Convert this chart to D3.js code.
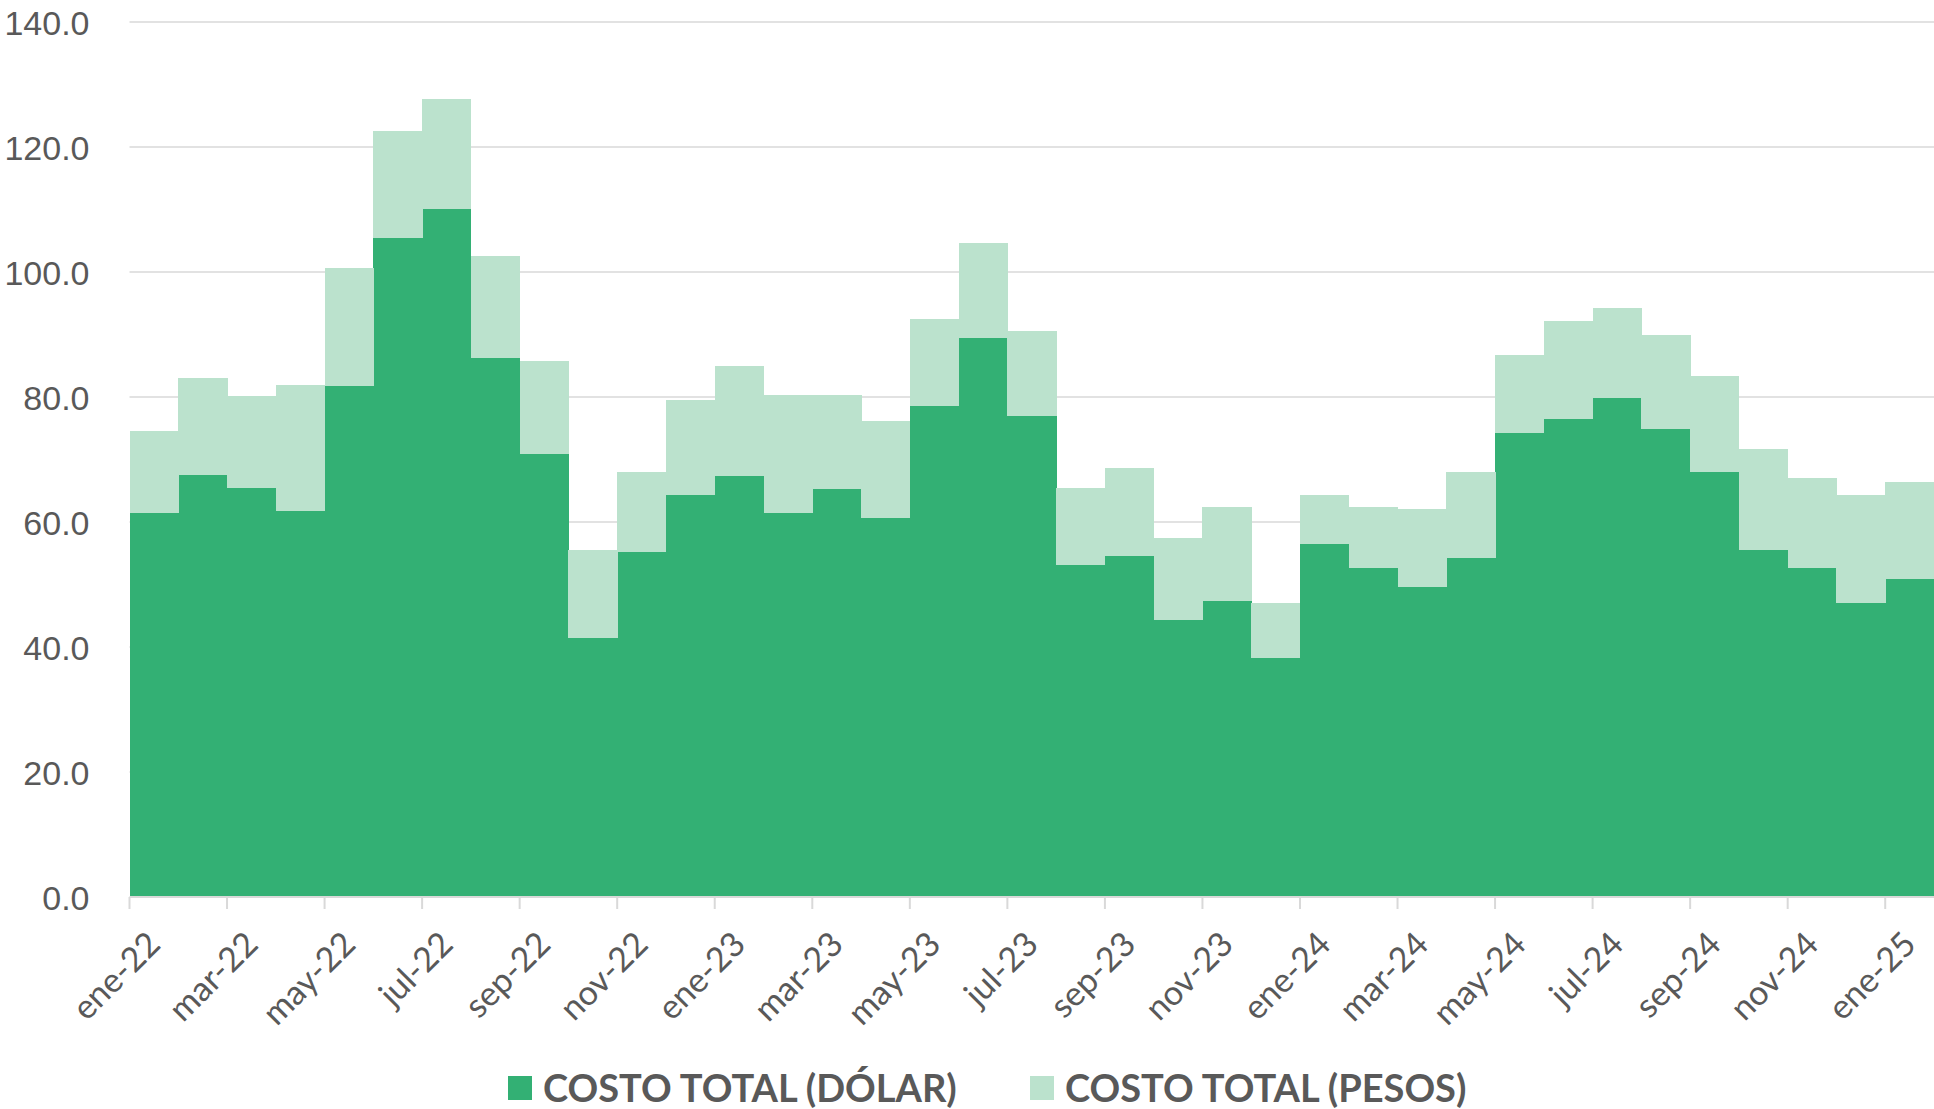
<!DOCTYPE html>
<html lang="es">
<head>
    <meta charset="UTF-8">
    <title>Costo total</title>
    <style>
body {
    margin: 0;
    background-color: white;
    font-family: Lato, "Noto Sans", sans-serif;
}

.grid line {
    stroke: #d9d9d9;
    stroke-width: 1.5px;
}

.bars rect {
    shape-rendering: crispEdges;
}

.axis text {
    fill: #595959;
    font-size: 34px;
}

.legend text {
    fill: #595959;
    font-size: 38px;
    font-weight: bold;
}
    </style>
</head>
<body>
    <svg id="chart"></svg>
    <script src="https://d3js.org/d3.v7.min.js"></script>
    <script>
// Meses (ene-22 a ene-25)
const months = [
    "ene-22", "feb-22", "mar-22", "abr-22", "may-22", "jun-22", "jul-22", "ago-22", "sep-22", "oct-22", "nov-22", "dic-22",
    "ene-23", "feb-23", "mar-23", "abr-23", "may-23", "jun-23", "jul-23", "ago-23", "sep-23", "oct-23", "nov-23", "dic-23",
    "ene-24", "feb-24", "mar-24", "abr-24", "may-24", "jun-24", "jul-24", "ago-24", "sep-24", "oct-24", "nov-24", "dic-24",
    "ene-25"
];

// Costo total (dólar)
const dolar = [
    61.4, 67.5, 65.4, 61.7, 81.8, 105.5, 110.1, 86.3, 70.9, 41.4, 55.2, 64.4,
    67.3, 61.4, 65.3, 60.7, 78.5, 89.5, 76.9, 53.2, 54.6, 44.4, 47.4, 38.2,
    56.5, 52.6, 49.6, 54.2, 74.2, 76.5, 79.8, 74.9, 68.0, 55.6, 52.6, 47.1,
    50.9
];

// Costo total (pesos)
const pesos = [
    13.1, 15.5, 14.7, 20.3, 18.8, 17.0, 17.6, 16.3, 14.8, 14.2, 12.8, 15.1,
    17.7, 19.0, 15.1, 15.5, 14.0, 15.1, 13.7, 12.2, 14.1, 13.1, 15.0, 8.9,
    7.9, 9.8, 12.5, 13.8, 12.5, 15.7, 14.4, 15.0, 15.4, 16.1, 14.5, 17.3,
    15.5
];

const yTicks = [0, 20, 40, 60, 80, 100, 120, 140];

const seriesNames = ["COSTO TOTAL (DÓLAR)", "COSTO TOTAL (PESOS)"];
const colors = ["#33b074", "#bbe2cd"];

const width = 1934, height = 1109;
const margin = { top: 22, right: 0, bottom: 212, left: 129.5 };

const svg = d3.select("#chart")
    .attr("width", width)
    .attr("height", height);

const x = d3.scaleBand()
    .domain(months)
    .range([margin.left, width - margin.right])
    .padding(0);

const y = d3.scaleLinear()
    .domain([0, 140])
    .range([height - margin.bottom, margin.top]);

// tabla para el stack
const table = months.map((m, i) => ({ month: m, dolar: dolar[i], pesos: pesos[i] }));
const stacked = d3.stack().keys(["dolar", "pesos"])(table);

// líneas de cuadrícula
svg.append("g")
    .attr("class", "grid")
    .selectAll("line")
    .data(yTicks.slice(1))
    .enter().append("line")
    .attr("x1", margin.left)
    .attr("x2", width - margin.right)
    .attr("y1", d => y(d))
    .attr("y2", d => y(d));

// barras apiladas
svg.append("g")
    .attr("class", "bars")
    .selectAll("g")
    .data(stacked)
    .enter().append("g")
    .attr("fill", (d, i) => colors[i])
    .selectAll("rect")
    .data(d => d)
    .enter().append("rect")
    .attr("x", d => x(d.data.month))
    .attr("width", x.bandwidth() + 0.5)
    .attr("y", d => y(d[1]))
    .attr("height", d => y(d[0]) - y(d[1]));

// eje Y
const yAxis = svg.append("g")
    .attr("class", "axis")
    .attr("transform", `translate(${margin.left - 37},0)`)
    .call(d3.axisLeft(y).tickValues(yTicks).tickFormat(d3.format(".1f")).tickSize(0));
yAxis.select(".domain").remove();
yAxis.selectAll("text").attr("dy", "0.36em");

// eje X: línea base y marcas entre categorías
const base = y(0);
svg.append("line")
    .attr("x1", margin.left)
    .attr("x2", width - margin.right)
    .attr("y1", base)
    .attr("y2", base)
    .attr("stroke", "#d9d9d9")
    .attr("stroke-width", 2);

const tickMonths = months.filter((m, i) => i % 2 === 0);

svg.append("g")
    .selectAll("line")
    .data(tickMonths)
    .enter().append("line")
    .attr("x1", d => x(d))
    .attr("x2", d => x(d))
    .attr("y1", base)
    .attr("y2", base + 12)
    .attr("stroke", "#d9d9d9")
    .attr("stroke-width", 2);

svg.append("g")
    .attr("class", "axis")
    .selectAll("text")
    .data(tickMonths)
    .enter().append("text")
    .attr("transform", d => `translate(${x(d) + x.bandwidth() / 2},${base + 41}) rotate(-45)`)
    .attr("text-anchor", "end")
    .attr("dy", "0.35em")
    .text(d => d);

// leyenda
const legend = svg.append("g")
    .attr("class", "legend");

const legendX = [508, 1030];
seriesNames.forEach((name, i) => {
    legend.append("rect")
        .attr("x", legendX[i])
        .attr("y", 1076)
        .attr("width", 24)
        .attr("height", 24)
        .attr("fill", colors[i]);
    legend.append("text")
        .attr("x", legendX[i] + 35)
        .attr("y", 1088)
        .attr("dy", "0.36em")
        .text(name);
});
    </script>
</body>
</html>
